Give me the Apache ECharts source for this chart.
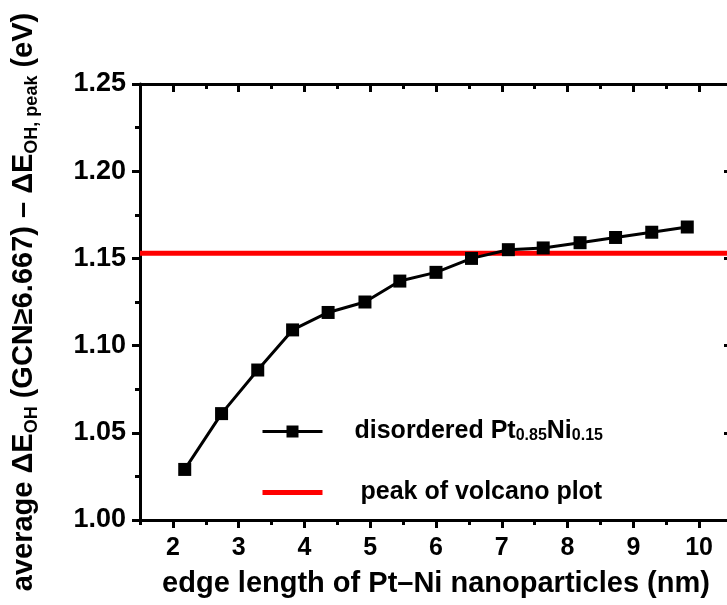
<!DOCTYPE html>
<html>
<head>
<meta charset="utf-8">
<script src="https://cdn.jsdelivr.net/npm/echarts@6/dist/echarts.min.js"></script>
<style>
html,body{margin:0;padding:0;background:#fff;}
#chart{width:727px;height:605px;}
</style>
</head>
<body>
<div id="chart"></div>
<script>
// ---- data ----
const edgeLength = [2.18, 2.74, 3.29, 3.82, 4.36, 4.92, 5.45, 6.00, 6.54, 7.10, 7.63, 8.19, 8.73, 9.28, 9.82];
const deltaE = [1.029, 1.061, 1.086, 1.109, 1.119, 1.125, 1.137, 1.142, 1.150, 1.155, 1.156, 1.159, 1.162, 1.165, 1.168];
const peakValue = 1.153;
const xTickValues = [2, 3, 4, 5, 6, 7, 8, 9, 10];
const xRange = [1.5, 10.5];
const yRange = [1.00, 1.25];
const seriesNames = ['disordered Pt0.85Ni0.15', 'peak of volcano plot'];
const legendLabels = ['disordered Pt{s|0.85}Ni{s|0.15}', 'peak of volcano plot'];
const xTitle = 'edge length of Pt\u2013Ni nanoparticles (nm)';
const yTitle = '{m|average \u0394E}{s|OH}{m| (GCN\u22656.667) \u2013 \u0394E}{s|OH, peak}{m| (eV)}';

// ---- style ----
const FONT = '"Liberation Sans", Arial, sans-serif';
const BLACK = '#000';
const RED = '#ff0000';
const lineW = 3;

const chart = echarts.init(document.getElementById('chart'), null, {renderer: 'canvas'});

const baseX = {
  type: 'value', min: xRange[0], max: xRange[1], interval: 0.5, gridIndex: 0,
  splitLine: {show: false}
};

const option = {
  backgroundColor: '#fff',
  animation: false,
  grid: {left: 140, top: 84, width: 592, height: 436, containLabel: false, outerBoundsMode: 'none'},
  legend: {
    orient: 'vertical', left: 260, top: 419, padding: 0,
    itemWidth: 60, itemHeight: 15, itemGap: 36,
    data: [
      {name: seriesNames[0], textStyle: {padding: [0, 0, 0, 27]},
       lineStyle: {width: 3, color: BLACK}},
      {name: seriesNames[1], textStyle: {padding: [0, 0, 0, 33]},
       lineStyle: {width: 5, color: RED},
       itemStyle: {color: 'rgba(0,0,0,0)', borderColor: 'rgba(0,0,0,0)', borderWidth: 0}}
    ],
    formatter: function (name) { return legendLabels[seriesNames.indexOf(name)]; },
    textStyle: {
      color: BLACK, fontFamily: FONT, fontWeight: 'bold', fontSize: 25,
      rich: {
        s: {fontSize: 16, fontWeight: 'bold', fontFamily: FONT, color: BLACK, verticalAlign: 'bottom', lineHeight: 16}
      }
    }
  },
  xAxis: [
    Object.assign({}, baseX, {
      position: 'bottom',
      axisLine: {onZero: false, lineStyle: {color: BLACK, width: lineW}},
      axisTick: {inside: false, length: 5, lineStyle: {color: BLACK, width: lineW}},
      axisLabel: {
        color: BLACK, fontFamily: FONT, fontWeight: 'bold', fontSize: 25, margin: 16,
        formatter: function (v) { return Number.isInteger(v) ? String(v) : ''; }
      },
      name: xTitle, nameLocation: 'middle', nameGap: 49,
      nameTextStyle: {color: BLACK, fontFamily: FONT, fontWeight: 'bold', fontSize: 29}
    }),
    Object.assign({}, baseX, {
      position: 'top',
      axisLine: {onZero: false, lineStyle: {color: BLACK, width: lineW}},
      axisTick: {inside: true, length: 5, lineStyle: {color: BLACK, width: lineW}},
      axisLabel: {show: false}
    }),
    Object.assign({}, baseX, {
      position: 'bottom',
      axisLine: {show: false, onZero: false},
      axisTick: {inside: false, length: 8, customValues: xTickValues, lineStyle: {color: BLACK, width: lineW}},
      axisLabel: {show: false}
    }),
    Object.assign({}, baseX, {
      position: 'top',
      axisLine: {show: false, onZero: false},
      axisTick: {inside: true, length: 8, customValues: xTickValues, lineStyle: {color: BLACK, width: lineW}},
      axisLabel: {show: false}
    })
  ],
  yAxis: [
    {
      type: 'value', position: 'left', min: yRange[0], max: yRange[1], interval: 0.05,
      splitLine: {show: false},
      axisLine: {onZero: false, lineStyle: {color: BLACK, width: lineW}},
      axisTick: {inside: false, length: 8, lineStyle: {color: BLACK, width: lineW}},
      minorTick: {show: true, splitNumber: 2, length: 5, lineStyle: {color: BLACK, width: lineW}},
      axisLabel: {
        color: BLACK, fontFamily: FONT, fontWeight: 'bold', fontSize: 27, margin: 14,
        formatter: function (v) { return v.toFixed(2); }
      },
      name: yTitle, nameLocation: 'middle', nameRotate: 90, nameGap: 99,
      nameTextStyle: {
        rich: {
          m: {fontSize: 29, fontWeight: 'bold', fontFamily: FONT, color: BLACK, lineHeight: 34},
          s: {fontSize: 18, fontWeight: 'bold', fontFamily: FONT, color: BLACK, lineHeight: 18, verticalAlign: 'bottom'}
        }
      }
    },
    {
      type: 'value', position: 'right', min: yRange[0], max: yRange[1], interval: 0.05,
      splitLine: {show: false},
      axisLine: {onZero: false, lineStyle: {color: BLACK, width: lineW}},
      axisTick: {inside: true, length: 8, lineStyle: {color: BLACK, width: lineW}},
      minorTick: {show: true, splitNumber: 2, length: 5, lineStyle: {color: BLACK, width: lineW}},
      axisLabel: {show: false}
    }
  ],
  series: [
    {
      name: seriesNames[0], type: 'line', xAxisIndex: 0, yAxisIndex: 0,
      data: edgeLength.map(function (x, i) { return [x, deltaE[i]]; }),
      symbol: 'rect', symbolSize: 13,
      lineStyle: {color: BLACK, width: 3},
      itemStyle: {color: BLACK},
      z: 4
    },
    {
      name: seriesNames[1], type: 'line', xAxisIndex: 0, yAxisIndex: 0,
      data: [[xRange[0], peakValue], [xRange[1], peakValue]],
      symbol: 'none',
      lineStyle: {color: RED, width: 5},
      itemStyle: {color: RED},
      z: 3
    }
  ]
};
chart.setOption(option);
</script>
</body>
</html>
